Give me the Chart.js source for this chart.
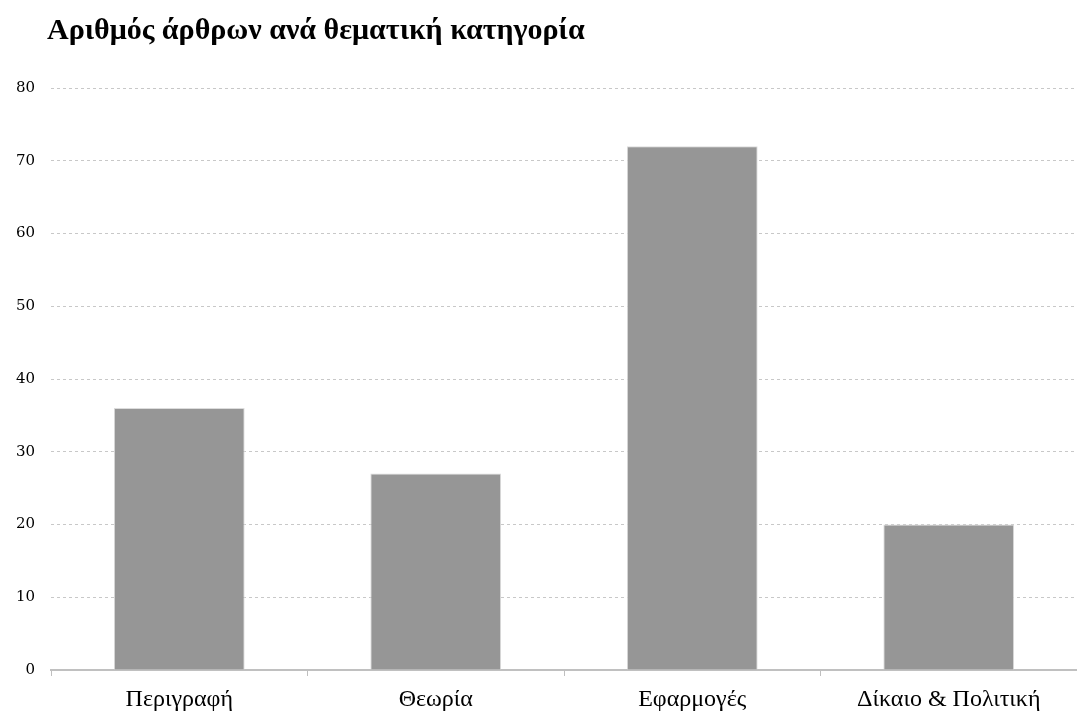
<!DOCTYPE html>
<html>
<head>
<meta charset="utf-8">
<script src="https://cdn.jsdelivr.net/npm/chart.js@4/dist/chart.umd.min.js"></script>
<style>
  html, body { margin: 0; padding: 0; background: #fff; }
  #wrap { width: 1077px; height: 715px; position: relative; }
</style>
</head>
<body>
<div id="wrap"><canvas id="barChart"></canvas></div>
<script>
const chartTitle = "Αριθμός άρθρων ανά θεματική κατηγορία";
const categories = ["Περιγραφή", "Θεωρία", "Εφαρμογές", "Δίκαιο & Πολιτική"];
const articleCounts = [36, 27, 72, 20];
const yTicks = [0, 10, 20, 30, 40, 50, 60, 70, 80];

// draws the title flush with the left edge like the original
const titlePlugin = {
  id: "leftTitle",
  afterDraw(chart) {
    const ctx = chart.ctx;
    ctx.save();
    ctx.font = "bold 30px 'Liberation Serif', serif";
    ctx.fillStyle = "#000";
    ctx.textBaseline = "middle";
    ctx.fillText(chartTitle, 47, 31);
    ctx.restore();
  }
};

new Chart(document.getElementById("barChart"), {
  type: "bar",
  data: {
    labels: categories,
    datasets: [{
      data: articleCounts,
      backgroundColor: "#969696",
      borderColor: "#dcdcdc",
      borderWidth: 1,
      barPercentage: 0.51,
      categoryPercentage: 1
    }]
  },
  options: {
    responsive: true,
    maintainAspectRatio: false,
    animation: false,
    layout: { padding: { top: 88, right: 0, left: 0, bottom: 0 } },
    plugins: {
      legend: { display: false },
      tooltip: { enabled: false }
    },
    scales: {
      x: {
        offset: true,
        afterFit: scale => { scale.height = 45; },
        grid: {
          offset: true,
          drawOnChartArea: false,
          tickLength: 6,
          color: "#bfbfbf"
        },
        border: { color: "#c0c0c0", width: 2 },
        ticks: {
          color: "#000",
          padding: 9,
          font: { family: "'Liberation Serif', serif", size: 24 }
        }
      },
      y: {
        min: 0,
        max: 80,
        afterFit: scale => { scale.width = 51; },
        afterBuildTicks: scale => { scale.ticks = yTicks.map(v => ({ value: v })); },
        grid: {
          color: ctx => ctx.tick && ctx.tick.value === 0 ? "rgba(0,0,0,0)" : "#c8c8c8",
          lineWidth: 1,
          drawTicks: false
        },
        border: { display: false, dash: [3, 3] },
        ticks: {
          color: "#000",
          padding: 16,
          font: { family: "'DejaVu Serif', serif", size: 15 }
        }
      }
    }
  },
  plugins: [titlePlugin]
});
</script>
</body>
</html>
